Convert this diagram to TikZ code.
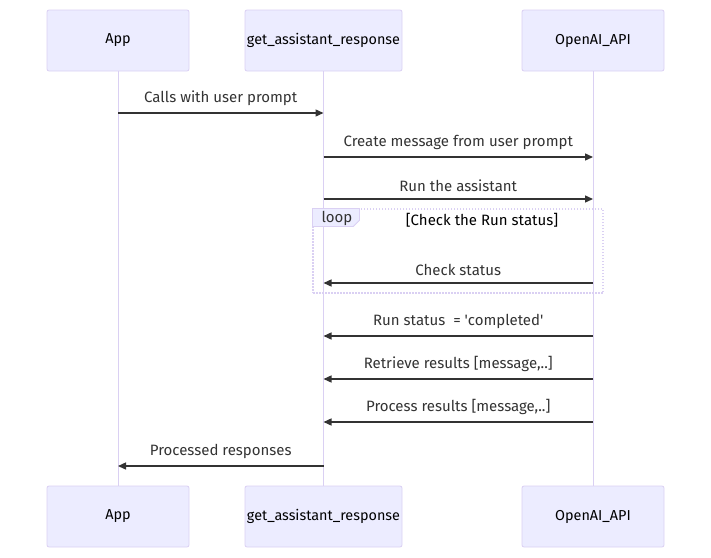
\documentclass[tikz,border=0pt]{standalone}
\usepackage{fontspec}
\setmainfont{Fira Sans}[Ligatures=TeXOff]
\usetikzlibrary{arrows.meta,calc}
\definecolor{actfill}{HTML}{ECECFF}
\definecolor{actline}{HTML}{DAD0F3}
\definecolor{txt}{HTML}{333333}
\begin{document}
\begin{tikzpicture}[x=1pt,y=1pt,
  actor/.style={draw=actline,fill=actfill,rounded corners=2pt,line width=0.8pt,minimum height=61pt,inner sep=0pt,font=\fontsize{14.4}{17}\selectfont,text=black},
  life/.style={draw=actline,line width=1pt},
  msg/.style={draw=txt,line width=1.4pt,-{Triangle[length=8pt,width=7pt]}},
  lbl/.style={font=\fontsize{15}{17}\selectfont,text=txt,inner sep=0pt}]
\useasboundingbox (0,0) rectangle (711,-557);
% actors
\node[actor,minimum width=142pt] (appT) at (118,-40.5) {App};
\node[actor,minimum width=157pt] (getT) at (323.5,-40.5) {get\_assistant\_response};
\node[actor,minimum width=142pt] (apiT) at (593,-40.5) {OpenAI\_API};
\node[actor,minimum width=142pt] (appB) at (118,-516.5) {App};
\node[actor,minimum width=157pt] (getB) at (323.5,-516.5) {get\_assistant\_response};
\node[actor,minimum width=142pt] (apiB) at (593,-516.5) {OpenAI\_API};
% lifelines
\draw[life] (appT.south) -- (appB.north);
\draw[life] (getT.south) -- (getB.north);
\draw[life] (apiT.south) -- (apiB.north);
% loop
\node[draw=actline,dash pattern=on 1.5pt off 1.5pt,line width=1.2pt,minimum width=290pt,minimum height=84pt,inner sep=0pt] (loopbox) at (458,-251) {};
\filldraw[draw=actline,fill=actfill,line width=0.8pt] (loopbox.north west) -- ++(47,0) -- ++(0,-12) -- ++(-6,-6) -- ++(-41,0) -- cycle;
\node[lbl,anchor=west] (looplbl) at ($(loopbox.north west)+(9,-10)$) {loop};
\node[lbl,text=black] (looptitle) at (482,-220) {[Check the Run status]};
% message coordinates
\coordinate (a1) at (appT.south |- 0,-113); \coordinate (g1) at (getT.south |- 0,-113);
\coordinate (g2) at (getT.south |- 0,-157); \coordinate (o2) at (apiT.south |- 0,-157);
\coordinate (g3) at (getT.south |- 0,-199); \coordinate (o3) at (apiT.south |- 0,-199);
\coordinate (g4) at (getT.south |- 0,-283); \coordinate (o4) at (apiT.south |- 0,-283);
\coordinate (g5) at (getT.south |- 0,-336); \coordinate (o5) at (apiT.south |- 0,-336);
\coordinate (g6) at (getT.south |- 0,-379); \coordinate (o6) at (apiT.south |- 0,-379);
\coordinate (g7) at (getT.south |- 0,-422); \coordinate (o7) at (apiT.south |- 0,-422);
\coordinate (g8) at (getT.south |- 0,-466); \coordinate (a8) at (appT.south |- 0,-466);
\draw[msg] (a1) -- (g1) node[lbl,midway,above=7pt] (l1) {Calls with user prompt};
\draw[msg] (g2) -- (o2) node[lbl,midway,above=7pt] (l2) {Create message from user prompt};
\draw[msg] (g3) -- (o3) node[lbl,midway,above=7pt] (l3) {Run the assistant};
\draw[msg] (o4) -- (g4) node[lbl,midway,above=7pt] (l4) {Check status};
\draw[msg] (o5) -- (g5) node[lbl,midway,above=7pt] (l5) {Run status\ \ = 'completed'};
\draw[msg] (o6) -- (g6) node[lbl,midway,above=7pt] (l6) {Retrieve results [message,..]};
\draw[msg] (o7) -- (g7) node[lbl,midway,above=7pt] (l7) {Process results [message,..]};
\draw[msg] (g8) -- (a8) node[lbl,midway,above=7pt] (l8) {Processed responses};
\end{tikzpicture}
\end{document}
